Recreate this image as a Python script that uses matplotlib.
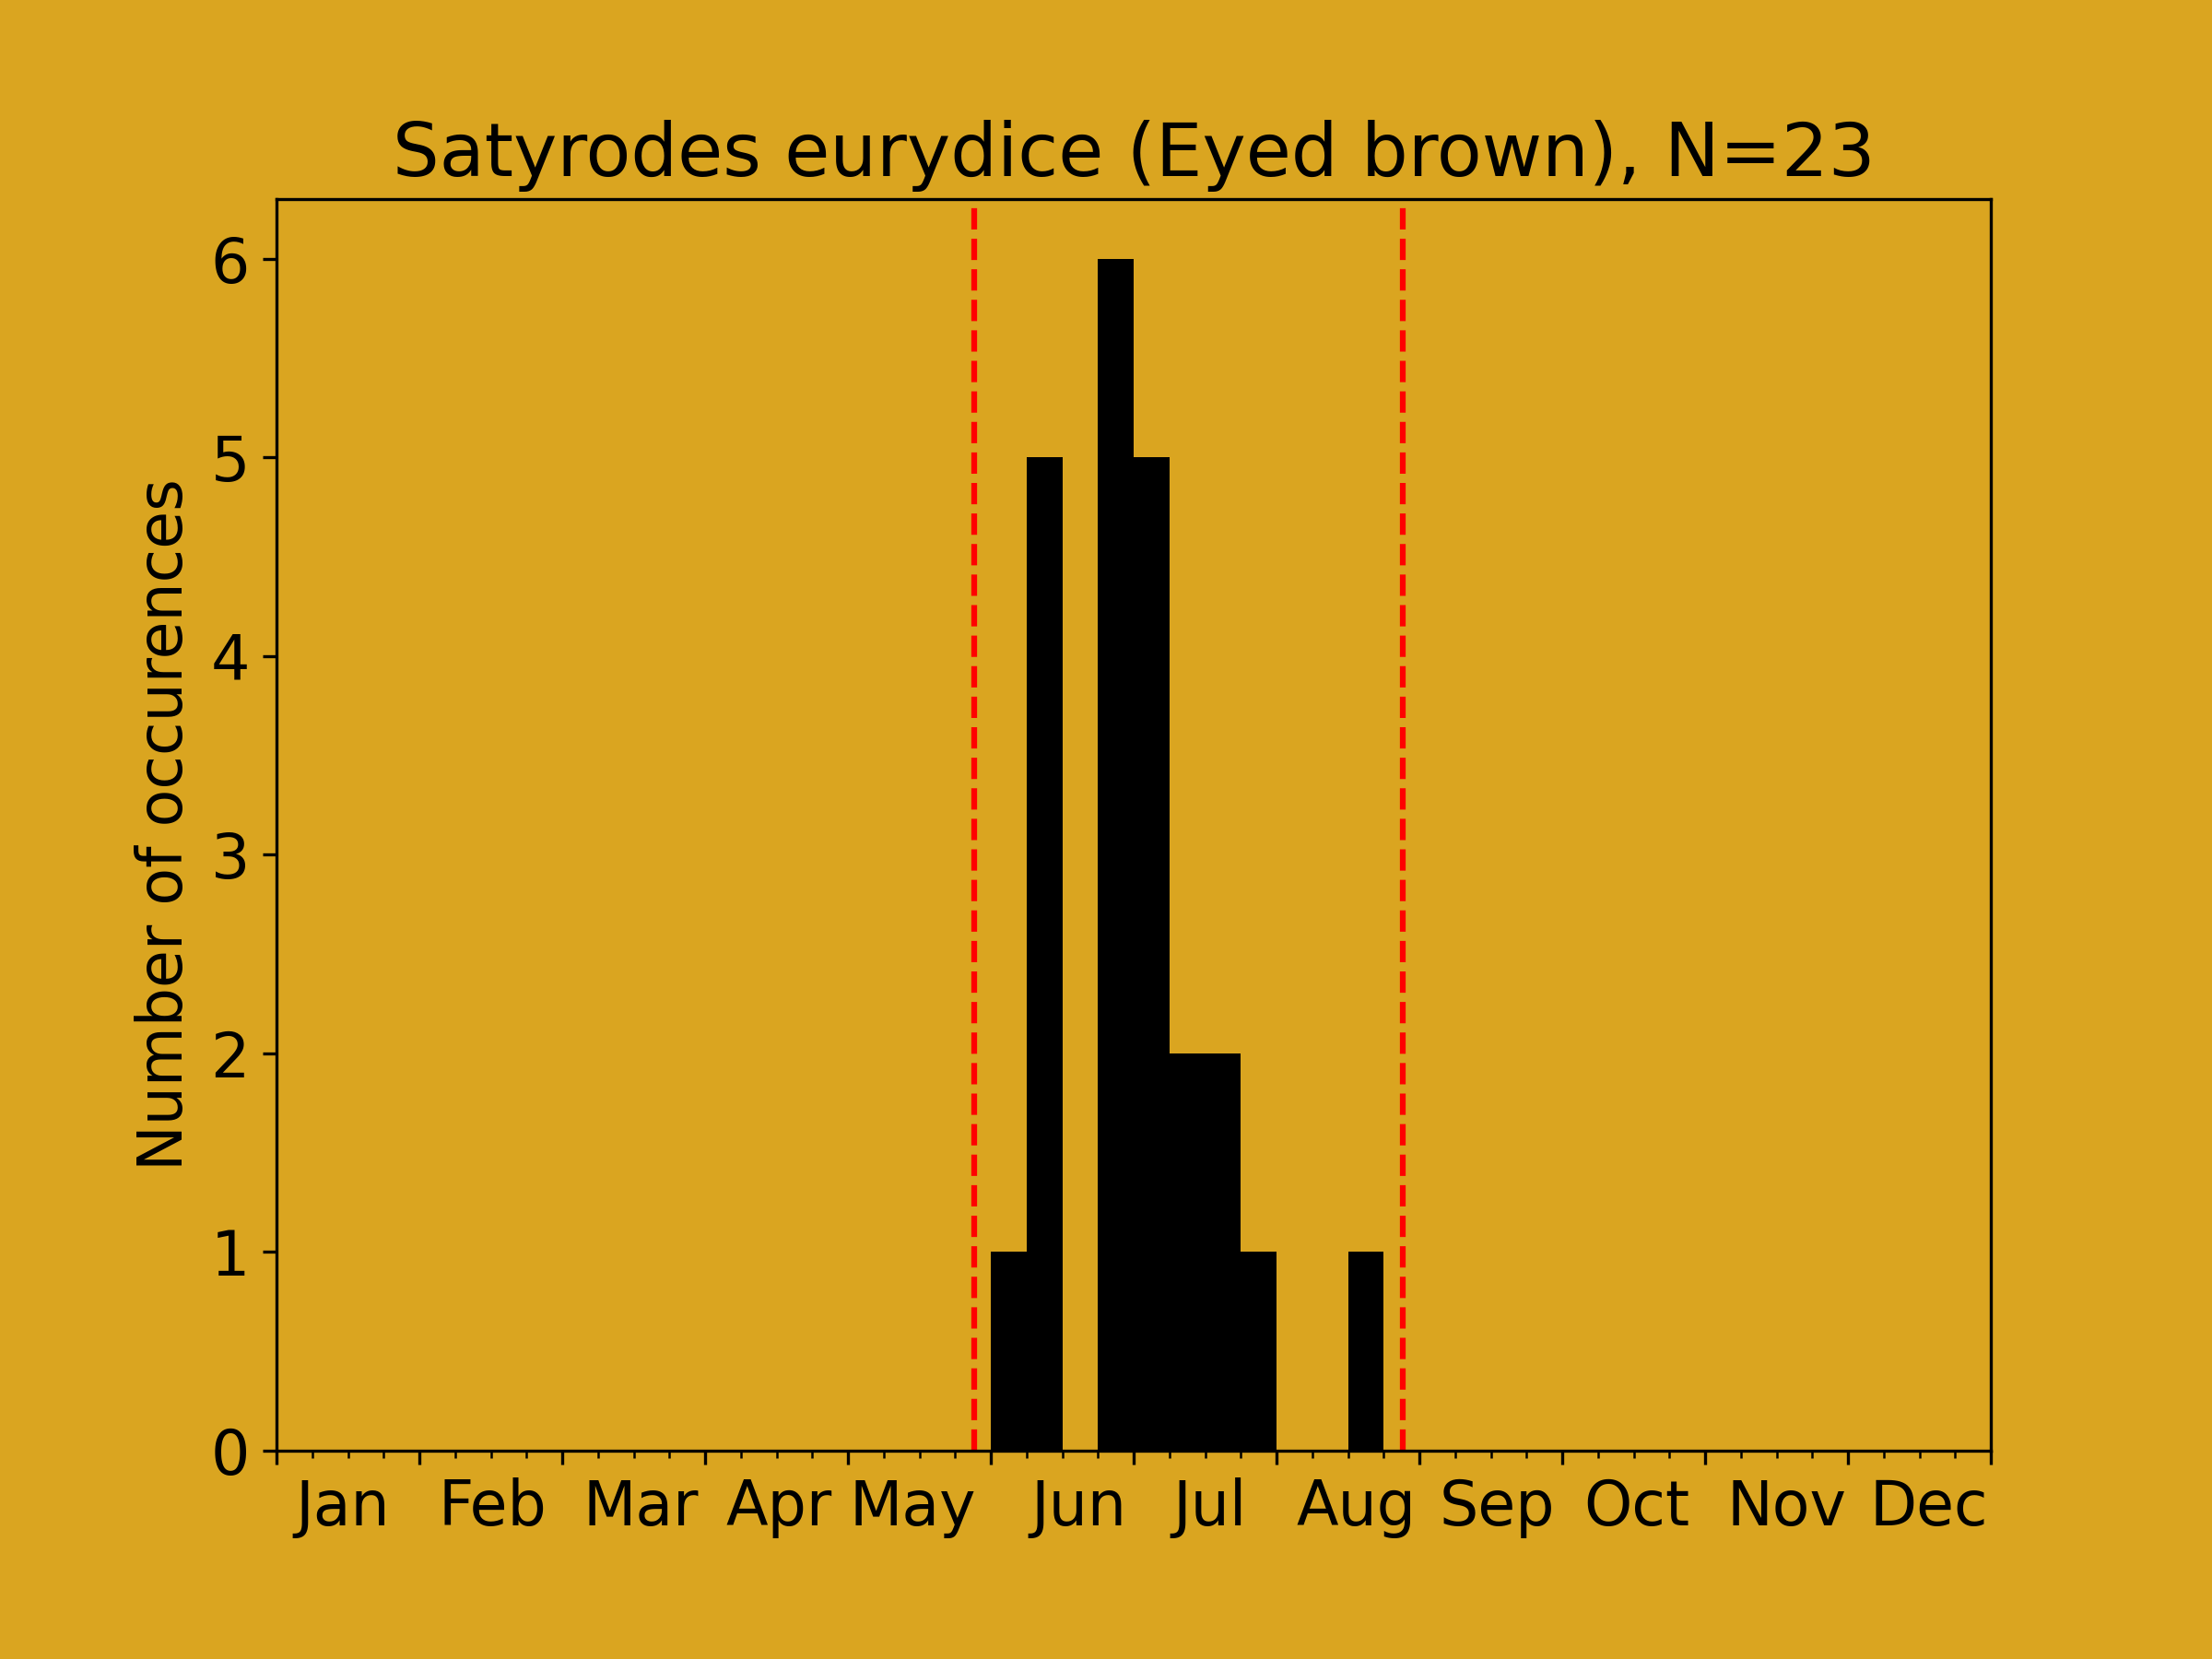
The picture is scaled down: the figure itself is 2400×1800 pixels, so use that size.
import matplotlib.pyplot as plt

plt.rcParams['font.size'] = 16

# 48 bins over the year, 4 per month
bin_index = list(range(48))
counts = [0] * 48
obs_bins = [20, 21, 23, 24, 25, 26, 27, 30]
obs_counts = [1, 5, 6, 5, 2, 2, 1, 1]
for b, c in zip(obs_bins, obs_counts):
    counts[b] = c

months = ['Jan', 'Feb', 'Mar', 'Apr', 'May', 'Jun',
          'Jul', 'Aug', 'Sep', 'Oct', 'Nov', 'Dec']
month_pos = [1.86, 6.05, 10.20, 14.06, 17.81, 22.46,
             26.14, 30.23, 34.18, 38.08, 42.27, 46.26]
range_lines = [19.53, 31.54]

bg = '#DAA520'

fig = plt.figure(figsize=(8, 6), dpi=300, facecolor=bg)
ax = fig.add_axes([0.125, 0.1256, 0.775, 0.88 - 0.1256])
ax.set_facecolor(bg)

ax.bar(bin_index, counts, width=1, align='edge', color='black')
for x in range_lines:
    ax.axvline(x, color='red', linestyle='--', linewidth=1.5)

ax.set_xlim(0, 48)
ax.set_xticks(range(0, 49, 4))
ax.set_xticks(range(0, 49), minor=True)
ax.tick_params(axis='x', which='major', labelbottom=False)

# month names sit between the ticks
sec = ax.secondary_xaxis('bottom')
sec.set_xticks(month_pos, labels=months)
sec.tick_params(length=0, pad=7)
sec.spines['bottom'].set_visible(False)

ax.set_ylabel('Number of occurences')
ax.set_title('Satyrodes eurydice (Eyed brown), N=23')

fig.savefig('out.png', facecolor=bg)
